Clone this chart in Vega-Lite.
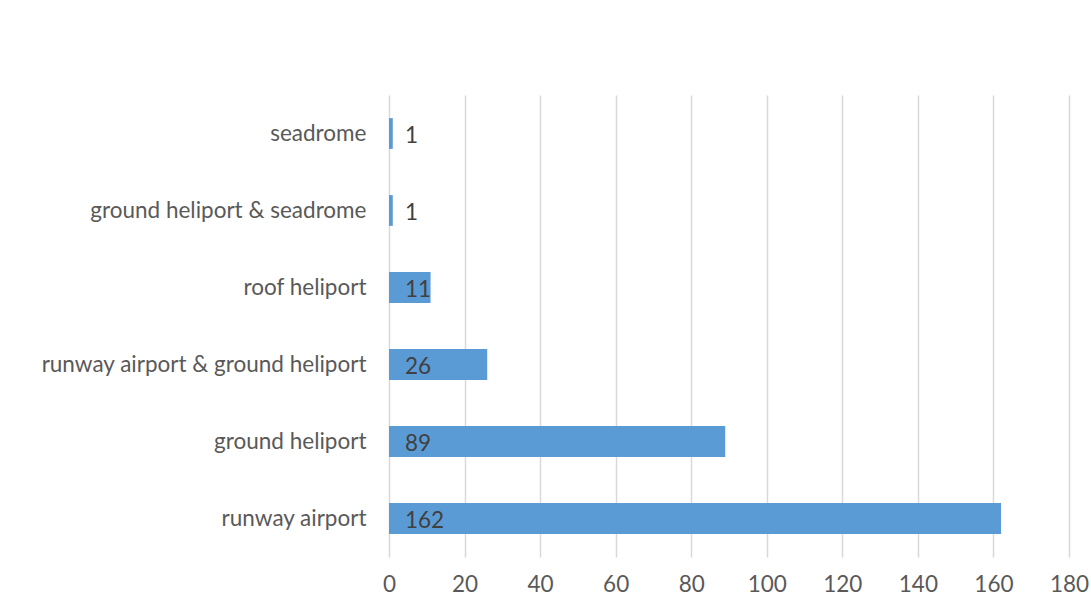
{
  "$schema": "https://vega.github.io/schema/vega-lite/v6.json",
  "autosize": "none",
  "width": 680,
  "height": 462,
  "padding": {"left": 389, "top": 95, "right": 22, "bottom": 50},
  "background": "white",
  "config": {"view": {"stroke": null}, "font": "Lato"},
  "data": {"values": [
    {"category": "seadrome", "count": 1},
    {"category": "ground heliport & seadrome", "count": 1},
    {"category": "roof heliport", "count": 11},
    {"category": "runway airport & ground heliport", "count": 26},
    {"category": "ground heliport", "count": 89},
    {"category": "runway airport", "count": 162}
  ]},
  "encoding": {
    "y": {"field": "category", "type": "nominal", "sort": null,
      "scale": {"paddingInner": 0.6, "paddingOuter": 0.3},
      "axis": {"title": null, "domain": false, "ticks": false, "labelPadding": 23,
        "labelFontSize": 22.5, "labelColor": "#595959", "labelFont": "Lato", "labelLimit": 400}},
    "x": {"field": "count", "type": "quantitative",
      "scale": {"domain": [0, 180], "nice": false},
      "axis": {"title": null, "values": [0,20,40,60,80,100,120,140,160,180], "domain": false, "ticks": false,
        "grid": true, "gridColor": "#d9d9d9", "gridWidth": 1.5, "labelPadding": 16,
        "labelFontSize": 22.5, "labelColor": "#595959", "labelFont": "Lato", "labelFlush": false}}
  },
  "layer": [
    {"mark": {"type": "bar", "color": "#5b9bd5"}},
    {"mark": {"type": "text", "align": "left", "baseline": "middle", "dx": 16, "dy": 2, "fontSize": 22.5, "color": "#404040", "font": "Lato"},
      "encoding": {"x": {"datum": 0, "type": "quantitative"}, "text": {"field": "count", "type": "quantitative"}}}
  ]
}
